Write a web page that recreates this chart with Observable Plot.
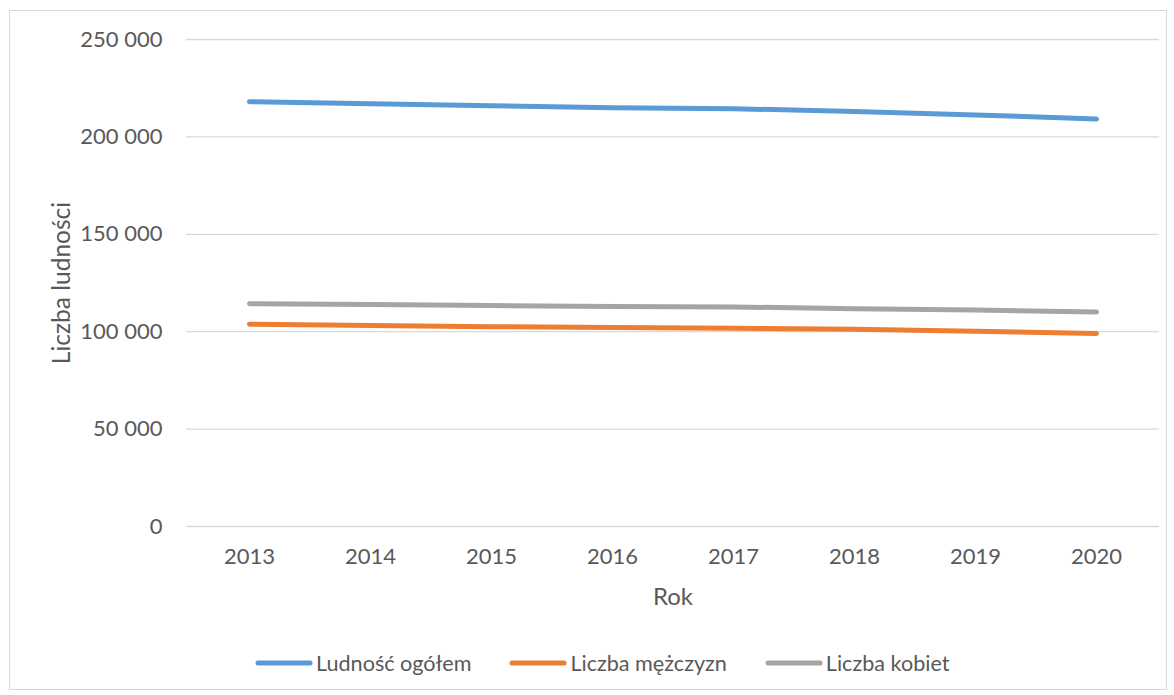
<!DOCTYPE html>
<html>
<head>
<meta charset="utf-8">
<script src="https://cdn.jsdelivr.net/npm/d3@7"></script>
<script src="https://cdn.jsdelivr.net/npm/@observablehq/plot@0.6"></script>
<style>
  html, body { margin: 0; padding: 0; background: #fff; }
  #frame { position: absolute; left: 9px; top: 10px; width: 1158px; height: 680px; border: 1px solid #d9d9d9; box-sizing: border-box; }
  #chart { position: absolute; left: 0; top: 0; }
  #legend { position: absolute; left: 255px; top: 650px; display: flex; align-items: center; gap: 38px;
            font-family: Lato, "Open Sans", sans-serif; font-size: 21.6px; color: #595959; }
  .item { display: flex; align-items: center; }
  .item span { margin-left: 3px; }
</style>
</head>
<body>
<div id="frame"></div>
<div id="chart"></div>
<div id="legend"></div>
<script>
const years = ["2013", "2014", "2015", "2016", "2017", "2018", "2019", "2020"];
const total = [218100, 217000, 216000, 215000, 214500, 213000, 211300, 209200];
const men   = [103800, 103200, 102600, 102100, 101800, 101200, 100200, 99100];
const women = [114400, 114000, 113400, 112900, 112700, 111800, 111100, 110100];
const seriesNames = ["Ludność ogółem", "Liczba mężczyzn", "Liczba kobiet"];
const seriesColors = ["#5b9bd5", "#ed7d31", "#a5a5a5"];
const yTicks = [0, 50000, 100000, 150000, 200000, 250000];
const xTitle = "Rok";
const yTitle = "Liczba ludności";

const seriesValues = [total, men, women];
const data = seriesNames.flatMap((name, s) =>
  years.map((year, i) => ({ year, value: seriesValues[s][i], series: name })));

const fmt = d => d3.format(",")(d).replace(/,/g, " ");

const chart = Plot.plot({
  width: 1174,
  height: 620,
  marginTop: 39,
  marginBottom: 94,
  marginLeft: 186,
  marginRight: 15,
  style: { fontFamily: "Lato, 'Open Sans', sans-serif", fontSize: "22px", color: "#595959", background: "transparent" },
  x: { type: "point", domain: years, padding: 0.5 },
  y: { domain: [0, 250000] },
  color: { domain: seriesNames, range: seriesColors },
  marks: [
    Plot.ruleY(yTicks, { stroke: "#d9d9d9", strokeWidth: 1.3 }),
    Plot.axisY({ ticks: yTicks, tickSize: 0, tickPadding: 24, tickFormat: fmt, label: null, fill: "#595959" }),
    Plot.axisX({ tickSize: 0, tickPadding: 22, label: null, fill: "#595959" }),
    Plot.text([yTitle], { frameAnchor: "left", dx: -124, rotate: -90, textAnchor: "middle", lineAnchor: "middle", fontSize: 24.5, fill: "#595959" }),
    Plot.text([xTitle], { frameAnchor: "bottom", dy: 71, textAnchor: "middle", lineAnchor: "middle", fontSize: 24, fill: "#595959" }),
    Plot.line(data, { x: "year", y: "value", z: "series", stroke: "series", strokeWidth: 5,
                      strokeLinecap: "round", strokeLinejoin: "round" })
  ]
});
document.getElementById("chart").appendChild(chart);

const legend = document.getElementById("legend");
seriesNames.forEach((name, i) => {
  const item = document.createElement("div");
  item.className = "item";
  item.innerHTML = `<svg width="58" height="10"><line x1="3" y1="5" x2="55" y2="5" stroke="${seriesColors[i]}" stroke-width="5" stroke-linecap="round"/></svg><span>${name}</span>`;
  legend.appendChild(item);
});
</script>
</body>
</html>
